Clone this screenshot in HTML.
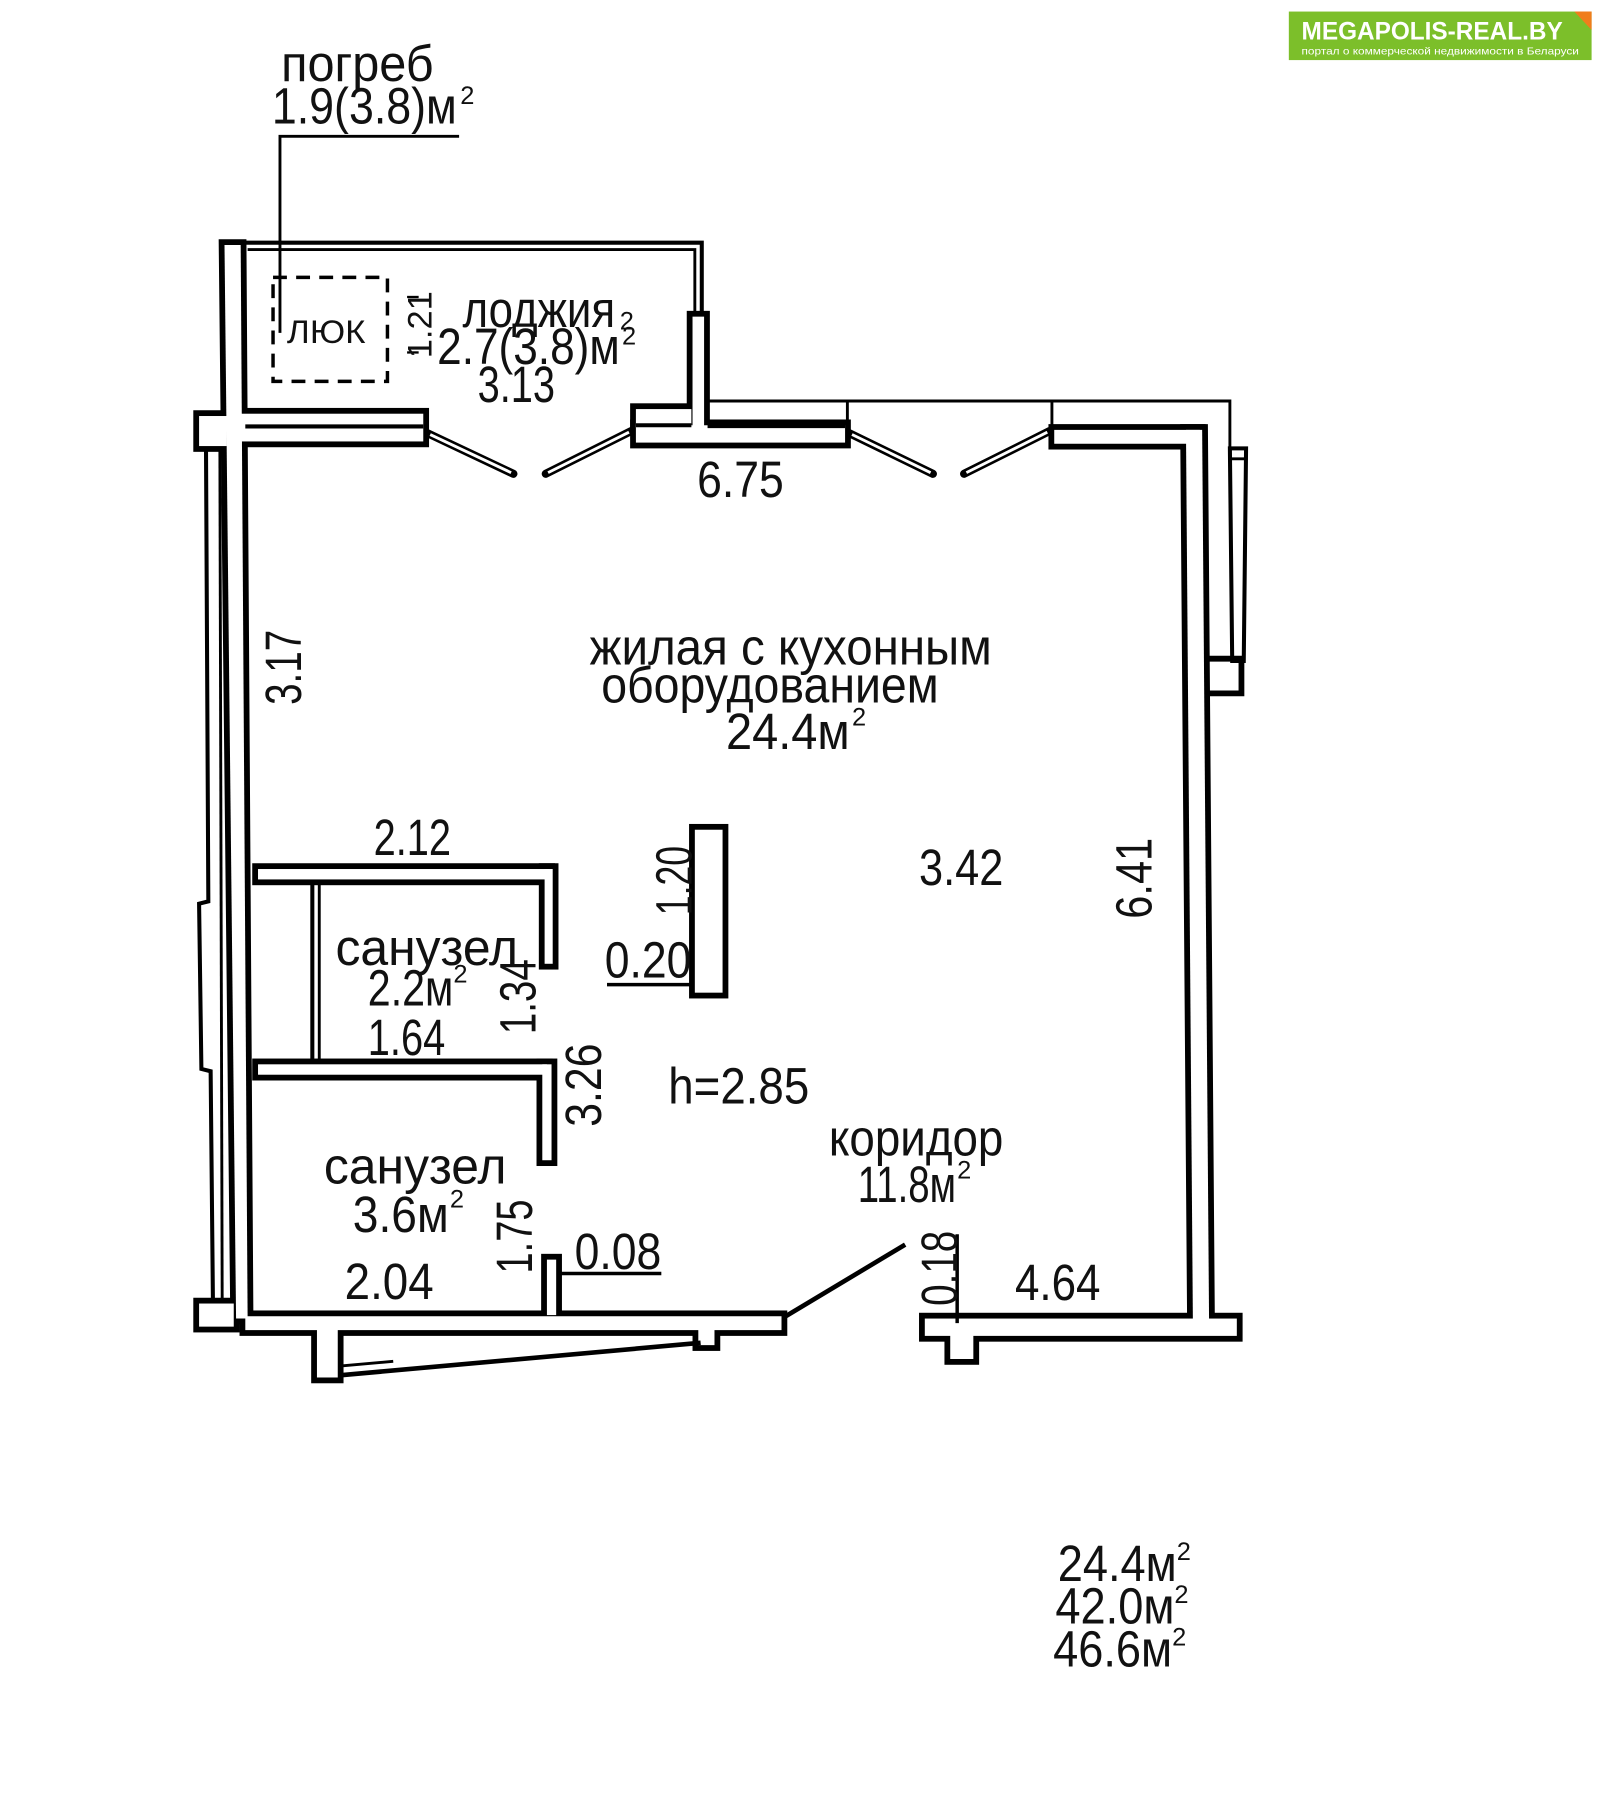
<!DOCTYPE html>
<html><head><meta charset="utf-8"><style>
html,body{margin:0;padding:0;background:#fff}
svg{display:block}
text{font-family:"Liberation Sans Narrow","Liberation Sans","DejaVu Sans",sans-serif;fill:#111}
</style></head><body>
<svg width="1600" height="1812" viewBox="0 0 1384 1568" xmlns="http://www.w3.org/2000/svg">
<defs>
<g id="w">
  <polygon points="194,212 208,212 214,1141 204,1141"/>
  <rect x="208" y="358" width="158" height="24"/>
  <rect x="172" y="360" width="24" height="26"/>
  <rect x="550" y="368" width="181" height="15"/>
  <rect x="550" y="354" width="48" height="16"/>
  <rect x="599" y="274" width="10" height="96"/>
  <rect x="912" y="372" width="126" height="12"/>
  <polygon points="1026,372 1040,372 1046,1146 1032,1146"/>
  <rect x="800" y="1141" width="270" height="15"/>
  <rect x="822" y="1150" width="20" height="26"/>
  <rect x="212" y="1139" width="464" height="12"/>
  <rect x="172" y="1128" width="30" height="20"/>
  <rect x="274" y="1150" width="18" height="42"/>
  <rect x="604" y="1150" width="14" height="14"/>
  <rect x="223" y="752" width="252" height="9"/>
  <rect x="471" y="752" width="7" height="82"/>
  <rect x="223" y="921" width="250" height="9"/>
  <rect x="469" y="921" width="8" height="83"/>
  <rect x="473" y="1090" width="8" height="48"/>
  <rect x="601" y="718" width="24" height="141"/>
</g>
</defs>
<polyline points="212,210 607,210 607,272" fill="none" stroke="#000" stroke-width="3.5"/>
<polyline points="214,216 601,216 601,272" fill="none" stroke="#000" stroke-width="2.5"/>
<polyline points="612,347 1064,347 1064,388" fill="none" stroke="#000" stroke-width="2.5"/>
<line x1="733" y1="347" x2="733" y2="372" stroke="#000" stroke-width="2.5"/>
<line x1="910" y1="347" x2="910" y2="372" stroke="#000" stroke-width="2.5"/>
<polyline points="178,390 180,780 172,782 174,925 182,927 184,1128" fill="none" stroke="#000" stroke-width="3.5"/>
<line x1="190" y1="390" x2="192" y2="1128" stroke="#000" stroke-width="2.5"/>
<polygon points="1064,388 1078,388 1076,572 1066,572" fill="#fff" stroke="#000" stroke-width="3.5"/>
<line x1="1064" y1="397" x2="1078" y2="397" stroke="#000" stroke-width="2.5"/>
<polyline points="1040,570 1074,570 1074,600 1044,600" fill="none" stroke="#000" stroke-width="5"/>
<use href="#w" fill="none" stroke="#000" stroke-width="10"/>
<use href="#w" fill="#fff"/>
<line x1="212" y1="369" x2="366" y2="369" stroke="#000" stroke-width="3.5"/>
<line x1="550" y1="368" x2="598" y2="368" stroke="#000" stroke-width="3.5"/>
<line x1="612" y1="368" x2="731" y2="368" stroke="#000" stroke-width="5"/>
<line x1="270" y1="762" x2="270" y2="920" stroke="#000" stroke-width="3.5"/>
<line x1="276" y1="762" x2="276" y2="920" stroke="#000" stroke-width="2.5"/>
<g stroke="#000" stroke-width="7" stroke-linecap="round">
<line x1="370" y1="375" x2="444" y2="410"/><line x1="472" y1="410" x2="546" y2="373"/>
<line x1="735" y1="375" x2="807" y2="410"/><line x1="834" y1="410" x2="908" y2="373"/>
</g>
<g stroke="#fff" stroke-width="2.5">
<line x1="372" y1="376" x2="442" y2="409"/><line x1="474" y1="409" x2="544" y2="374"/>
<line x1="737" y1="376" x2="805" y2="409"/><line x1="836" y1="409" x2="906" y2="374"/>
</g>
<line x1="295" y1="1190" x2="606" y2="1162" stroke="#000" stroke-width="4"/>
<line x1="295" y1="1182" x2="340" y2="1178" stroke="#000" stroke-width="2.5"/>
<line x1="678" y1="1140" x2="783" y2="1077" stroke="#000" stroke-width="4"/>
<rect x="236" y="240" width="99" height="90" fill="none" stroke="#000" stroke-width="3" stroke-dasharray="12,8"/>
<polyline points="397,118 242,118 242,288" fill="none" stroke="#000" stroke-width="2.5"/>
<line x1="525" y1="852" x2="600" y2="852" stroke="#000" stroke-width="3"/>
<line x1="483" y1="1102" x2="572" y2="1102" stroke="#000" stroke-width="3"/>
<line x1="828" y1="1068" x2="828" y2="1145" stroke="#000" stroke-width="3"/>
<line x1="352" y1="257" x2="362" y2="257" stroke="#000" stroke-width="2"/>
<line x1="352" y1="305" x2="362" y2="305" stroke="#000" stroke-width="2"/>
<g font-size="44">
<text x="243" y="70" textLength="132" lengthAdjust="spacingAndGlyphs">погреб</text>
<text x="235" y="107" textLength="160" lengthAdjust="spacingAndGlyphs">1.9(3.8)м</text>
<text x="398" y="90" font-size="22">2</text>
<text x="400" y="283" textLength="132" lengthAdjust="spacingAndGlyphs">лоджия</text>
<text x="536" y="285" font-size="22">2</text>
<text x="378" y="315" textLength="158" lengthAdjust="spacingAndGlyphs">2.7(3.8)м</text>
<text x="538" y="298" font-size="22">2</text>
<text x="413" y="348" textLength="67" lengthAdjust="spacingAndGlyphs">3.13</text>
<text x="603" y="430" textLength="75" lengthAdjust="spacingAndGlyphs">6.75</text>
<text x="510" y="575" textLength="348" lengthAdjust="spacingAndGlyphs">жилая с кухонным</text>
<text x="520" y="608" textLength="292" lengthAdjust="spacingAndGlyphs">оборудованием</text>
<text x="628" y="648" textLength="107" lengthAdjust="spacingAndGlyphs">24.4м</text>
<text x="737" y="628" font-size="22">2</text>
<text x="323" y="740" textLength="67" lengthAdjust="spacingAndGlyphs">2.12</text>
<text x="795" y="766" textLength="73" lengthAdjust="spacingAndGlyphs">3.42</text>
<text x="290" y="835" textLength="158" lengthAdjust="spacingAndGlyphs">санузел</text>
<text x="318" y="870" textLength="74" lengthAdjust="spacingAndGlyphs">2.2м</text>
<text x="392" y="850" font-size="22">2</text>
<text x="318" y="913" textLength="67" lengthAdjust="spacingAndGlyphs">1.64</text>
<text x="523" y="846" textLength="75" lengthAdjust="spacingAndGlyphs">0.20</text>
<text x="578" y="955" textLength="122" lengthAdjust="spacingAndGlyphs">h=2.85</text>
<text x="717" y="1000" textLength="151" lengthAdjust="spacingAndGlyphs">коридор</text>
<text x="742" y="1040" textLength="85" lengthAdjust="spacingAndGlyphs">11.8м</text>
<text x="828" y="1020" font-size="22">2</text>
<text x="280" y="1024" textLength="158" lengthAdjust="spacingAndGlyphs">санузел</text>
<text x="305" y="1066" textLength="83" lengthAdjust="spacingAndGlyphs">3.6м</text>
<text x="389" y="1045" font-size="22">2</text>
<text x="497" y="1098" textLength="75" lengthAdjust="spacingAndGlyphs">0.08</text>
<text x="298" y="1124" textLength="77" lengthAdjust="spacingAndGlyphs">2.04</text>
<text x="878" y="1125" textLength="74" lengthAdjust="spacingAndGlyphs">4.64</text>
<text x="915" y="1368" textLength="103" lengthAdjust="spacingAndGlyphs">24.4м</text>
<text x="1018" y="1350" font-size="22">2</text>
<text x="913" y="1405" textLength="103" lengthAdjust="spacingAndGlyphs">42.0м</text>
<text x="1016" y="1387" font-size="22">2</text>
<text x="911" y="1442" textLength="103" lengthAdjust="spacingAndGlyphs">46.6м</text>
<text x="1014" y="1424" font-size="22">2</text>
<text x="248" y="297" font-size="28" textLength="68" lengthAdjust="spacingAndGlyphs">ЛЮК</text>
<text transform="translate(373,310) rotate(-90)" font-size="30" textLength="58" lengthAdjust="spacingAndGlyphs">1.21</text>
<text transform="translate(260,610) rotate(-90)" textLength="65" lengthAdjust="spacingAndGlyphs">3.17</text>
<text transform="translate(598,792) rotate(-90)" textLength="60" lengthAdjust="spacingAndGlyphs">1.20</text>
<text transform="translate(996,795) rotate(-90)" textLength="70" lengthAdjust="spacingAndGlyphs">6.41</text>
<text transform="translate(463,895) rotate(-90)" textLength="65" lengthAdjust="spacingAndGlyphs">1.34</text>
<text transform="translate(520,975) rotate(-90)" textLength="72" lengthAdjust="spacingAndGlyphs">3.26</text>
<text transform="translate(460,1102) rotate(-90)" textLength="64" lengthAdjust="spacingAndGlyphs">1.75</text>
<text transform="translate(828,1130) rotate(-90)" textLength="65" lengthAdjust="spacingAndGlyphs">0.18</text>
</g>
<rect x="1115" y="10" width="262" height="42" fill="#7cbf2a"/>
<polygon points="1362,10 1377,10 1377,26" fill="#f07d1c"/>
<text x="1126" y="34" font-weight="bold" font-size="22" style="fill:#fff;font-family:'Liberation Sans'" textLength="226" lengthAdjust="spacingAndGlyphs">MEGAPOLIS-REAL.BY</text>
<text x="1126" y="47" font-size="9" style="fill:#fff;font-family:'Liberation Sans'" textLength="240" lengthAdjust="spacingAndGlyphs">портал о коммерческой недвижимости в Беларуси</text>
</svg>
</body></html>
